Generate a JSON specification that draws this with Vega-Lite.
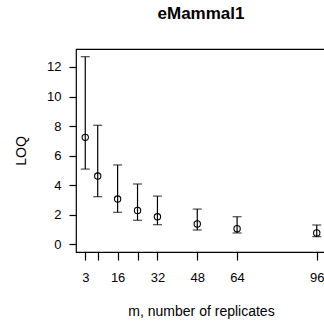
{
  "$schema": "https://vega.github.io/schema/vega-lite/v6.json",
  "autosize": "none",
  "width": 250,
  "height": 203,
  "padding": {"left": 76, "top": 49, "right": 0, "bottom": 72},
  "background": "white",
  "title": {"text": "eMammal1", "fontSize": 17, "fontWeight": "bold", "font": "Liberation Sans", "color": "black", "anchor": "middle", "offset": 26},
  "config": {
    "view": {"stroke": "black", "strokeWidth": 1.2},
    "axis": {"labelFont": "Liberation Sans", "titleFont": "Liberation Sans", "labelFontSize": 13, "titleFontSize": 14, "titleFontWeight": "normal", "labelColor": "black", "titleColor": "black", "tickColor": "black", "tickWidth": 1.2, "domain": false, "grid": false, "labelOverlap": false}
  },
  "data": {"values": [
    {"m": 3, "loq": 7.23, "lo": 5.08, "hi": 12.7},
    {"m": 8, "loq": 4.61, "lo": 3.21, "hi": 8.05},
    {"m": 16, "loq": 3.05, "lo": 2.15, "hi": 5.36},
    {"m": 24, "loq": 2.28, "lo": 1.61, "hi": 4.07},
    {"m": 32, "loq": 1.85, "lo": 1.31, "hi": 3.25},
    {"m": 48, "loq": 1.36, "lo": 0.95, "hi": 2.37},
    {"m": 64, "loq": 1.04, "lo": 0.75, "hi": 1.85},
    {"m": 96, "loq": 0.75, "lo": 0.5, "hi": 1.29}
  ]},
  "encoding": {
    "x": {"field": "m", "type": "quantitative",
      "scale": {"domain": [-0.72, 99.72], "nice": false, "zero": false},
      "axis": {"title": "m, number of replicates", "values": [3, 8, 16, 24, 32, 48, 64, 96], "labelExpr": "datum.value == 8 || datum.value == 24 ? '' : datum.label", "tickSize": 8, "labelPadding": 11, "titlePadding": 20, "labelFlush": false, "labelOverlap": false}}
  },
  "layer": [
    {"mark": {"type": "rule", "color": "black", "strokeWidth": 1.2},
     "encoding": {"y": {"field": "lo", "type": "quantitative",
        "scale": {"domain": [-0.54, 13.22], "nice": false, "zero": false},
        "axis": {"title": "LOQ", "values": [0, 2, 4, 6, 8, 10, 12], "tickSize": 7, "labelPadding": 8, "titlePadding": 18, "labelOverlap": false, "labelFlush": false}},
       "y2": {"field": "hi"}}},
    {"mark": {"type": "tick", "orient": "horizontal", "color": "black", "size": 9, "thickness": 1.2},
     "encoding": {"y": {"field": "hi", "type": "quantitative", "axis": {"title": "LOQ", "values": [0, 2, 4, 6, 8, 10, 12], "tickSize": 7, "labelPadding": 8, "titlePadding": 18, "labelOverlap": false, "labelFlush": false}}}},
    {"mark": {"type": "tick", "orient": "horizontal", "color": "black", "size": 9, "thickness": 1.2},
     "encoding": {"y": {"field": "lo", "type": "quantitative", "axis": {"title": "LOQ", "values": [0, 2, 4, 6, 8, 10, 12], "tickSize": 7, "labelPadding": 8, "titlePadding": 18, "labelOverlap": false, "labelFlush": false}}}},
    {"mark": {"type": "point", "shape": "circle", "filled": false, "color": "black", "size": 40, "strokeWidth": 1.1, "opacity": 1},
     "encoding": {"y": {"field": "loq", "type": "quantitative", "axis": {"title": "LOQ", "values": [0, 2, 4, 6, 8, 10, 12], "tickSize": 7, "labelPadding": 8, "titlePadding": 18, "labelOverlap": false, "labelFlush": false}}}}
  ]
}
